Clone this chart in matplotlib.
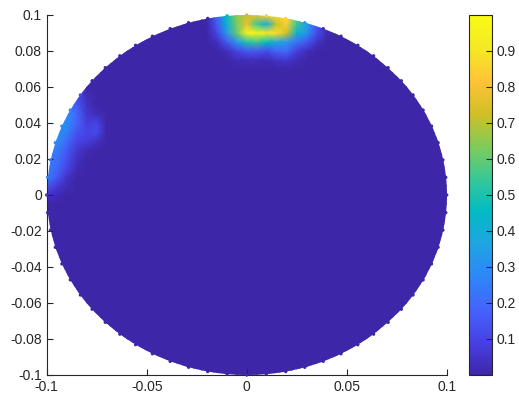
import numpy as np
import matplotlib
matplotlib.use("Agg")
import matplotlib.pyplot as plt
from matplotlib.colors import LinearSegmentedColormap
from matplotlib.patches import Ellipse

plt.rcParams['font.family'] = ['Liberation Sans', 'DejaVu Sans']

# parula-like colormap (MATLAB default)
parula_pts = [
    (0.2422, 0.1504, 0.6603), (0.2783, 0.2559, 0.8991), (0.2699, 0.3892, 0.9906),
    (0.1786, 0.5289, 0.9682), (0.1240, 0.6454, 0.8883), (0.0067, 0.7312, 0.7660),
    (0.2161, 0.7843, 0.5923), (0.5044, 0.7993, 0.3480), (0.8203, 0.7498, 0.1535),
    (0.9970, 0.7659, 0.2199), (0.9597, 0.9135, 0.1423), (0.9769, 0.9839, 0.0805),
]
parula = LinearSegmentedColormap.from_list(
    'parula', list(zip(np.linspace(0, 1, len(parula_pts)), parula_pts)))

# field on a 0.005 grid over the disc of radius 0.1; zero except two hot regions
step = 0.005
radius = 0.1
n_boundary = 64

# hot region near the top: rows from y=0.100 down to y=0.075, cols x=-0.015..0.040
top_x0, top_y_top = -0.015, 0.100
top_patch = [
    [0.20, 0.45, 0.65, 0.72, 0.78, 0.85, 0.88, 0.86, 0.62, 0.35, 0.15, 0.05],
    [0.15, 0.42, 0.62, 0.78, 0.55, 0.38, 0.72, 0.85, 0.55, 0.35, 0.15, 0.03],
    [0.10, 0.32, 0.60, 0.95, 0.97, 0.92, 0.88, 0.72, 0.42, 0.32, 0.12, 0.02],
    [0.03, 0.15, 0.32, 0.50, 0.55, 0.45, 0.38, 0.32, 0.22, 0.15, 0.05, 0.00],
    [0.00, 0.03, 0.10, 0.15, 0.15, 0.12, 0.18, 0.20, 0.08, 0.03, 0.00, 0.00],
    [0.00, 0.00, 0.02, 0.03, 0.03, 0.02, 0.05, 0.06, 0.02, 0.00, 0.00, 0.00],
]

# hot region on the left edge: rows from y=0.060 down to y=0.000, cols x=-0.100..-0.070
left_x0, left_y_top = -0.100, 0.060
left_patch = [
    [0.00, 0.00, 0.00, 0.05, 0.00, 0.00, 0.00],
    [0.00, 0.00, 0.10, 0.12, 0.03, 0.00, 0.00],
    [0.00, 0.10, 0.20, 0.16, 0.04, 0.00, 0.00],
    [0.10, 0.22, 0.28, 0.20, 0.06, 0.03, 0.00],
    [0.20, 0.28, 0.30, 0.18, 0.08, 0.10, 0.00],
    [0.25, 0.30, 0.26, 0.14, 0.10, 0.12, 0.00],
    [0.28, 0.30, 0.20, 0.10, 0.08, 0.04, 0.00],
    [0.25, 0.25, 0.16, 0.06, 0.02, 0.00, 0.00],
    [0.22, 0.22, 0.13, 0.04, 0.00, 0.00, 0.00],
    [0.25, 0.20, 0.10, 0.02, 0.00, 0.00, 0.00],
    [0.25, 0.16, 0.05, 0.00, 0.00, 0.00, 0.00],
    [0.15, 0.07, 0.02, 0.00, 0.00, 0.00, 0.00],
    [0.05, 0.02, 0.00, 0.00, 0.00, 0.00, 0.00],
]

x = np.round(np.arange(-radius, radius + step / 2, step), 4)
y = np.round(np.arange(-radius, radius + step / 2, step), 4)
Z = np.zeros((len(y), len(x)))


def put(patch, x0, y_top):
    p = np.flipud(np.array(patch))
    j0 = int(round((x0 + radius) / step))
    i0 = int(round((y_top + radius) / step)) - p.shape[0] + 1
    Z[i0:i0 + p.shape[0], j0:j0 + p.shape[1]] = p


put(top_patch, top_x0, top_y_top)
put(left_patch, left_x0, left_y_top)

fig = plt.figure(figsize=(5.19, 4.05), dpi=100)
ax = fig.add_axes([0.090, 0.0741, 0.7707, 0.8889])
cax = fig.add_axes([0.9043, 0.0741, 0.043, 0.8889])

X, Y = np.meshgrid(x, y)
mesh = ax.pcolormesh(X, Y, Z, shading='gouraud', cmap=parula, vmin=0, vmax=1)
clip = Ellipse((0, 0), 2 * radius, 2 * radius, transform=ax.transData)
mesh.set_clip_path(clip)

# boundary nodes
th = np.linspace(0, 2 * np.pi, n_boundary, endpoint=False)
bx, by = radius * np.cos(th), radius * np.sin(th)
ji = np.clip(np.round((bx + radius) / step).astype(int), 0, len(x) - 1)
ii = np.clip(np.round((by + radius) / step).astype(int), 0, len(y) - 1)
ax.scatter(bx, by, c=Z[ii, ji], cmap=parula, vmin=0, vmax=1, s=6,
           linewidths=0, clip_on=False, zorder=3)

ax.set_xlim(-0.1, 0.1)
ax.set_ylim(-0.1, 0.1)
ax.set_xticks([-0.1, -0.05, 0, 0.05, 0.1])
ax.set_xticklabels(['-0.1', '-0.05', '0', '0.05', '0.1'])
yt = np.round(np.arange(-0.1, 0.1001, 0.02), 2)
ax.set_yticks(yt)
ax.set_yticklabels(['0' if v == 0 else ('%g' % v) for v in yt])
for s in ['top', 'right']:
    ax.spines[s].set_visible(False)
for s in ['left', 'bottom']:
    ax.spines[s].set_color('#262626')
    ax.spines[s].set_linewidth(0.8)
ax.tick_params(direction='in', length=4, width=0.8, colors='#262626',
               labelsize=10, labelcolor='#262626')

cb = fig.colorbar(mesh, cax=cax)
cb.set_ticks(np.round(np.arange(0.1, 0.91, 0.1), 1))
cb.ax.tick_params(direction='in', length=4, width=0.8, colors='#262626',
                  labelsize=10, labelcolor='#262626')
cb.outline.set_edgecolor('#262626')
cb.outline.set_linewidth(0.8)

fig.savefig('out.png', dpi=100)
